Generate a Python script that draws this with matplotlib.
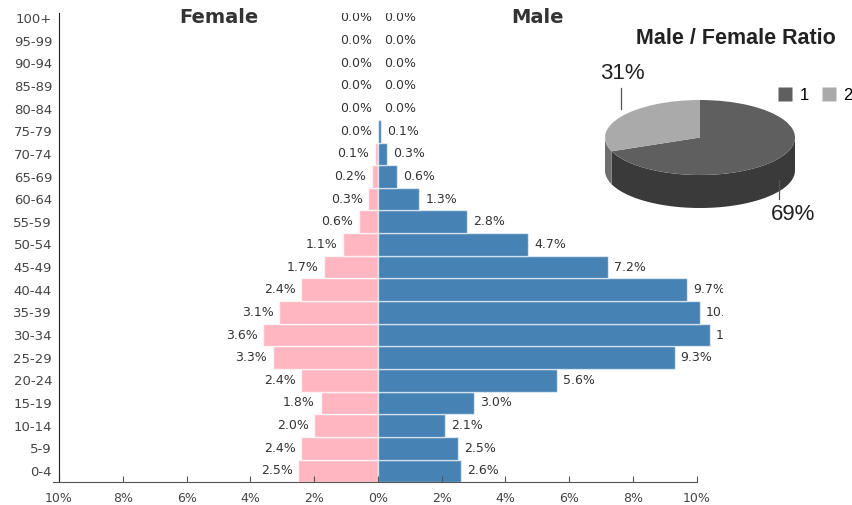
import numpy as np
import matplotlib.pyplot as plt
from matplotlib.patches import Wedge, Polygon
from matplotlib.lines import Line2D

# population pyramid data (share of total population, %)
ages = ['0-4', '5-9', '10-14', '15-19', '20-24', '25-29', '30-34', '35-39',
        '40-44', '45-49', '50-54', '55-59', '60-64', '65-69', '70-74',
        '75-79', '80-84', '85-89', '90-94', '95-99', '100+']
female = [2.5, 2.4, 2.0, 1.8, 2.4, 3.3, 3.6, 3.1, 2.4, 1.7, 1.1,
          0.6, 0.3, 0.2, 0.1, 0.0, 0.0, 0.0, 0.0, 0.0, 0.0]
male = [2.6, 2.5, 2.1, 3.0, 5.6, 9.3, 10.4, 10.1, 9.7, 7.2, 4.7,
        2.8, 1.3, 0.6, 0.3, 0.1, 0.0, 0.0, 0.0, 0.0, 0.0]
xticks = [-10, -8, -6, -4, -2, 0, 2, 4, 6, 8, 10]

# male / female ratio pie
ratio_labels = ['1', '2']
ratio = [69, 31]
ratio_top = ['#5f5f5f', '#aaaaaa']
ratio_side = ['#3a3a3a', '#6e6e6e']

W, H = 852, 505
fig = plt.figure(figsize=(W / 100, H / 100), dpi=100)

# ---- pyramid ----
ax = fig.add_axes([59 / W, 1 - 482 / H, (723 - 59) / W, (482 - 13) / H])
y = np.arange(len(ages))
ax.barh(y, [-v for v in female], height=1.0, color='#ffb6c1',
        edgecolor=(1, 1, 1, 0.7), linewidth=1.0)
ax.barh(y, male, height=1.0, color='#4682b4',
        edgecolor=(1, 1, 1, 0.6), linewidth=1.0)

for i in range(len(ages)):
    ax.annotate(f'{female[i]:.1f}%', (-female[i], y[i]), xytext=(-4, 0),
                textcoords='offset points', ha='right', va='center',
                fontsize=9, color='#333333', clip_on=True)
    ax.annotate(f'{male[i]:.1f}%', (male[i], y[i]), xytext=(4.4, 0),
                textcoords='offset points', ha='left', va='center',
                fontsize=9, color='#333333', clip_on=True)

ax.text(-5, 20, 'Female', ha='center', va='center', fontsize=14,
        fontweight='bold', color='#333333')
ax.text(5, 20, 'Male', ha='center', va='center', fontsize=14,
        fontweight='bold', color='#333333')

ax.set_xlim(-10, 10.82)
ax.set_ylim(-0.49, 20.22)
ax.set_yticks(y)
ax.set_yticklabels(ages, fontsize=9.5, color='#444444')
ax.set_xticks(xticks)
ax.set_xticklabels([f'{abs(t)}%' for t in xticks], fontsize=9, color='#444444')
ax.tick_params(axis='y', length=0, pad=5)
ax.tick_params(axis='x', direction='in', length=4, pad=7, color='#555555')
for s in ['top', 'right']:
    ax.spines[s].set_visible(False)
ax.spines['bottom'].set_bounds(-10.2, 10)
ax.spines['bottom'].set_color('#555555')
ax.spines['left'].set_color('#222222')

# ---- 3D-looking pie ----
pax = fig.add_axes([605 / W, 1 - 208 / H, 190 / W, 108 / H])
depth = 0.88
pax.set_xlim(-1, 1)
pax.set_ylim(-1 - depth, 1)
pax.axis('off')

start = 90.0
spans = []
for v in ratio:
    ext = 360.0 * v / sum(ratio)
    spans.append((start - ext, start))   # clockwise
    start -= ext

# side walls (front half only)
for (t1, t2), c in zip(spans, ratio_side):
    for off in (0, 360, -360):
        a, b = max(t1 + off, 180), min(t2 + off, 360)
        if b > a:
            th = np.radians(np.linspace(a, b, 60))
            top = np.column_stack([np.cos(th), np.sin(th)])
            bot = np.column_stack([np.cos(th[::-1]), np.sin(th[::-1]) - depth])
            pax.add_patch(Polygon(np.vstack([top, bot]), closed=True,
                                  facecolor=c, edgecolor='none'))
for (t1, t2), c in zip(spans, ratio_top):
    pax.add_patch(Wedge((0, 0), 1, t1, t2, facecolor=c, edgecolor='none'))

# percentage labels with leader lines
for (t1, t2), v in zip(spans, ratio):
    m = np.radians((t1 + t2) / 2)
    cx, cy = np.cos(m), np.sin(m)
    if cy > 0:
        pax.plot([cx, cx], [cy + 0.2, cy + 0.75], color='#555555', lw=0.9,
                 clip_on=False)
        pax.text(cx + 0.25, cy + 1.15, f'{v}%', ha='right', va='center',
                 fontsize=16, family='Liberation Sans', color='#222222',
                 clip_on=False)
    else:
        yb = cy - depth
        pax.plot([cx, cx], [yb + 0.3, yb - 0.2], color='#555555', lw=0.9,
                 clip_on=False)
        pax.text(cx - 0.08, yb - 0.62, f'{v}%', ha='left', va='center',
                 fontsize=16, family='Liberation Sans', color='#222222',
                 clip_on=False)

fig.text(736 / W, 1 - 38 / H, 'Male / Female Ratio', ha='center', va='center',
         fontsize=15.5, fontweight='bold', family='Liberation Sans',
         color='#222222')

handles = [Line2D([], [], ls='none', marker='s', markersize=10,
                  markerfacecolor=c, markeredgecolor='none') for c in ratio_top]
fig.legend(handles, ratio_labels, loc='center left',
           bbox_to_anchor=(777 / W, 1 - 95 / H), ncol=2, frameon=False,
           prop={'family': 'Liberation Sans', 'size': 12},
           handlelength=1.0, handletextpad=0.35, columnspacing=0.7,
           borderpad=0, borderaxespad=0)

fig.savefig('out.png', dpi=100)
